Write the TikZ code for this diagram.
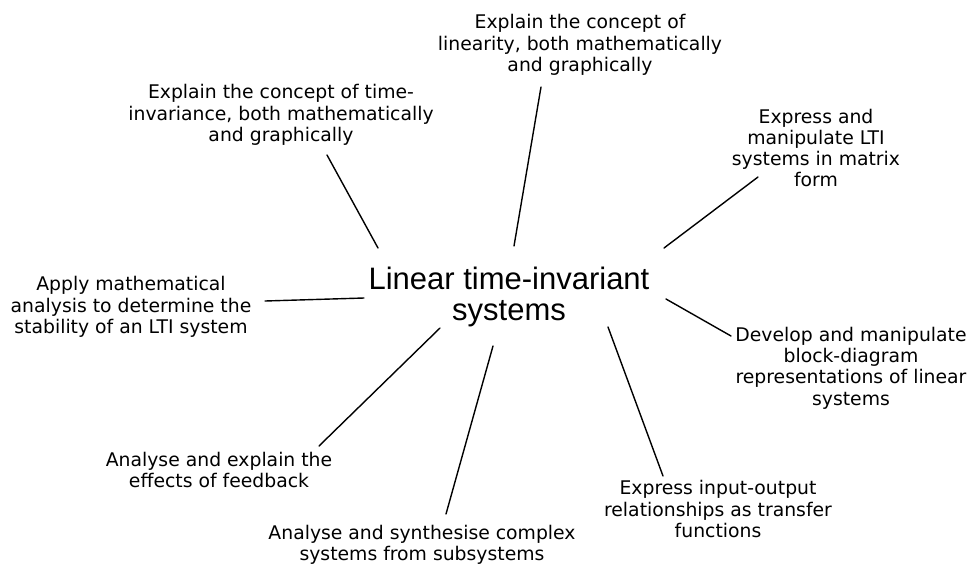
\documentclass[tikz,border=0pt]{standalone}
\usepackage{fontspec}
\setmainfont{DejaVu Sans}
\newfontfamily\hubfont{Liberation Sans}
\begin{document}
\begin{tikzpicture}[x=1pt,y=-1pt,
  goal/.style={align=center,inner sep=0pt,font=\fontsize{18.8}{21.3}\selectfont},
  hub/.style={align=center,inner sep=0pt,font=\hubfont\fontsize{31}{31}\selectfont},
  spoke/.style={line width=1.4pt,line cap=round}]
\useasboundingbox (0,0) rectangle (973,565);

% central topic
\node[hub] (lti) at (509,297) {Linear time-invariant\\systems};

% learning outcomes around it
\node[goal] (lin) at (580,45) {Explain the concept of\\linearity, both mathematically\\and graphically};
\node[goal] (tinv) at (281,115) {Explain the concept of time-\\invariance, both mathematically\\and graphically};
\node[goal] (mat) at (816,148) {Express and\\manipulate LTI\\systems in matrix\\form};
\node[goal] (stab) at (131,307) {Apply mathematical\\analysis to determine the\\stability of an LTI system};
\node[goal] (blk) at (851,368) {Develop and manipulate\\block-diagram\\representations of linear\\systems};
\node[goal] (fb) at (219,470) {Analyse and explain the\\effects of feedback};
\node[goal] (sub) at (422,545) {Analyse and synthesise complex\\systems from subsystems};
\node[goal] (tf) at (718,509) {Express input-output\\relationships as transfer\\functions};

% spoke end points
\coordinate (tinvA) at (327,155); \coordinate (tinvB) at (378,248);
\coordinate (linA) at (541,87);   \coordinate (linB) at (514,246);
\coordinate (matA) at (758,177);  \coordinate (matB) at (664,248);
\coordinate (stabA) at (265,301); \coordinate (stabB) at (364,298);
\coordinate (blkA) at (666,299);  \coordinate (blkB) at (731,336);
\coordinate (fbA) at (440,328);   \coordinate (fbB) at (319,446);
\coordinate (subA) at (493,346);  \coordinate (subB) at (446,514);
\coordinate (tfA) at (608,327);   \coordinate (tfB) at (663,476);

\draw[spoke] (tinvA) -- (tinvB);
\draw[spoke] (linA) -- (linB);
\draw[spoke] (matA) -- (matB);
\draw[spoke] (stabA) -- (stabB);
\draw[spoke] (blkA) -- (blkB);
\draw[spoke] (fbA) -- (fbB);
\draw[spoke] (subA) -- (subB);
\draw[spoke] (tfA) -- (tfB);
\end{tikzpicture}
\end{document}
